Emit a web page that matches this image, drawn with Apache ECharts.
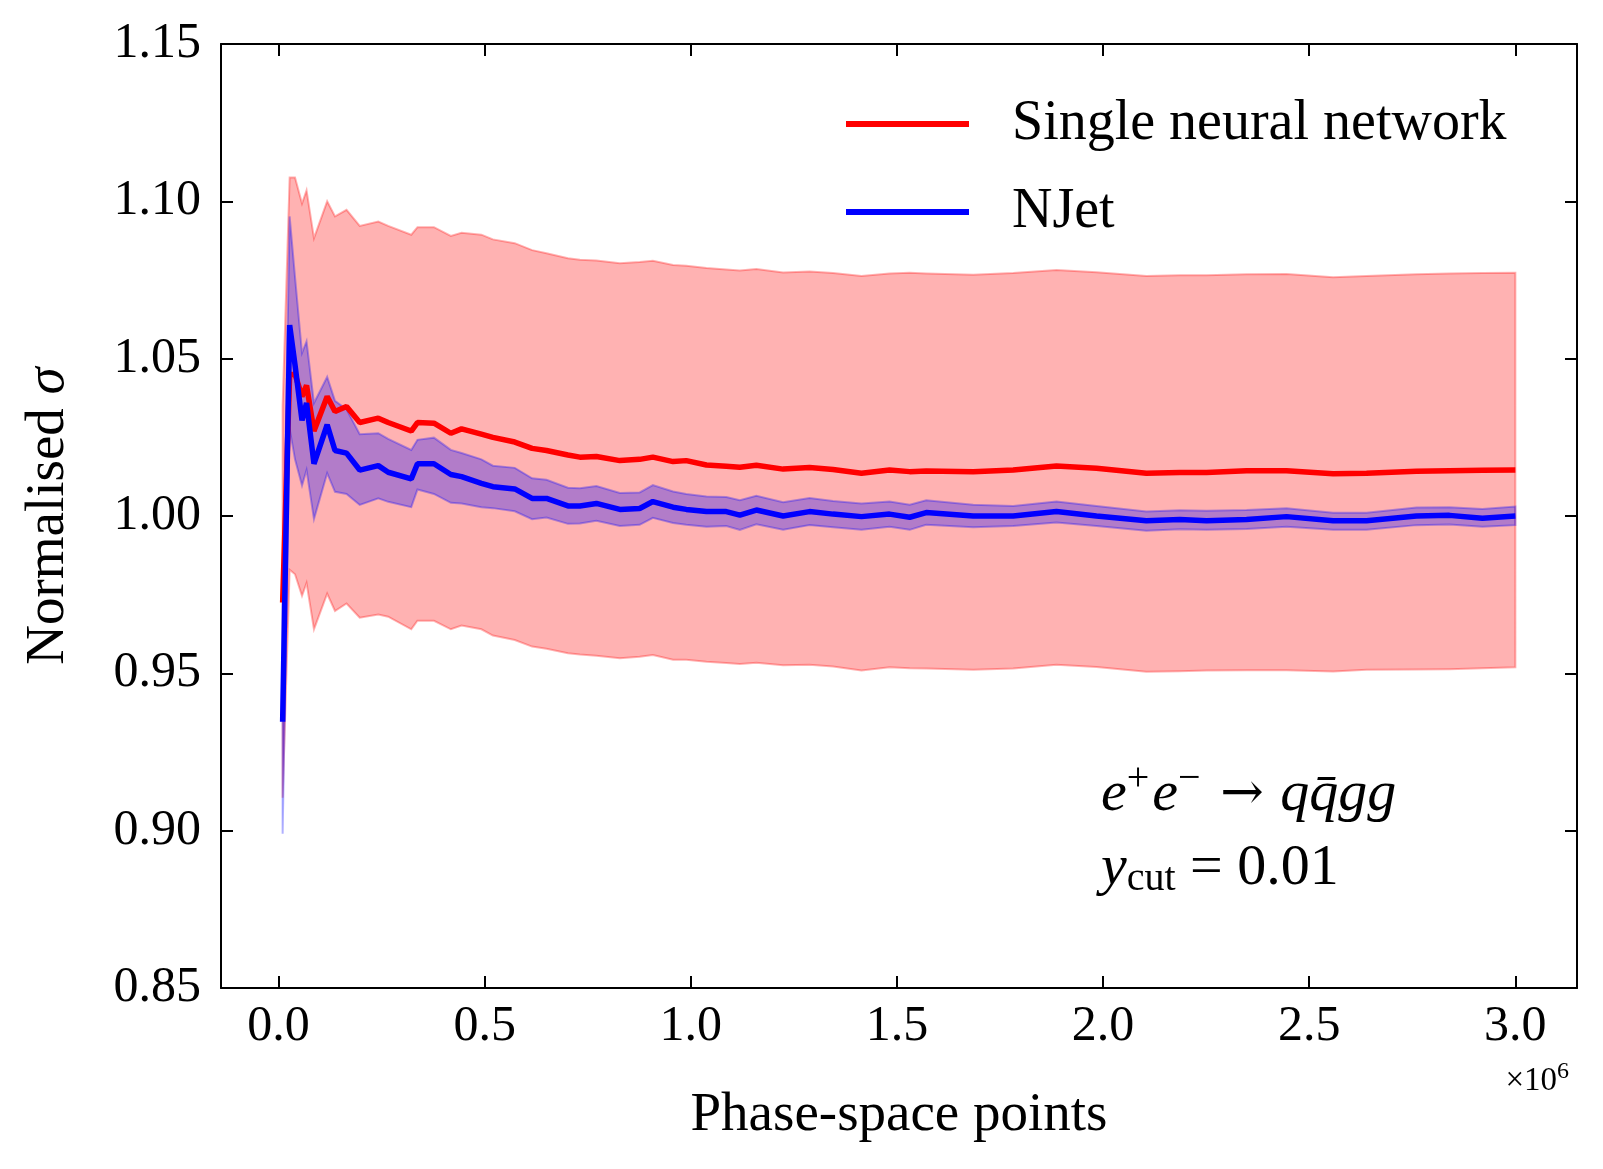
<!DOCTYPE html>
<html>
<head>
<meta charset="utf-8">
<script src="https://cdn.jsdelivr.net/npm/echarts@6/dist/echarts.min.js"></script>
<style>
html,body{margin:0;padding:0;background:#fff;}
#chart{width:1603px;height:1169px;}
</style>
</head>
<body>
<div id="chart"></div>
<script>
// Phase-space points (units of 10^6)
const xPoints = [0.010,0.027,0.040,0.057,0.068,0.086,0.118,0.137,0.165,0.197,0.242,0.266,0.322,0.337,0.377,0.418,0.444,0.492,0.520,0.573,0.615,0.650,0.702,0.731,0.771,0.828,0.876,0.908,0.957,0.989,1.038,1.086,1.119,1.159,1.224,1.288,1.345,1.414,1.482,1.531,1.571,1.685,1.782,1.887,1.984,2.105,2.186,2.251,2.348,2.445,2.558,2.639,2.760,2.840,2.920,3.000];

// Single neural network: central value and band
const nnValue = [0.9725,1.045,1.045,1.038,1.0415,1.027,1.038,1.0332,1.0348,1.0297,1.0311,1.0297,1.027,1.0297,1.0295,1.0263,1.0277,1.026,1.025,1.0235,1.0215,1.0208,1.0194,1.0187,1.0189,1.0176,1.018,1.0187,1.0173,1.0176,1.0162,1.0158,1.0155,1.0161,1.0149,1.0154,1.0148,1.0136,1.0146,1.0141,1.0143,1.0141,1.0146,1.0159,1.0152,1.0136,1.0138,1.0138,1.0144,1.0144,1.0134,1.0136,1.0142,1.0144,1.0145,1.0146];
const nnUpper = [1.035,1.1076,1.1076,1.0993,1.1035,1.0883,1.100,1.0952,1.0973,1.0922,1.0936,1.0922,1.0894,1.0918,1.0918,1.089,1.090,1.0894,1.0879,1.0867,1.0845,1.0835,1.0819,1.0814,1.0812,1.0803,1.0807,1.0811,1.0798,1.0795,1.0788,1.0783,1.078,1.0785,1.0774,1.0777,1.0772,1.0763,1.0771,1.0773,1.0771,1.0767,1.0772,1.0782,1.0775,1.0763,1.0765,1.0765,1.0768,1.0769,1.0759,1.0763,1.0768,1.0771,1.0772,1.0773];
const nnLower = [0.9105,0.9829,0.9815,0.9746,0.9787,0.964,0.9753,0.9698,0.9722,0.9677,0.9687,0.968,0.964,0.9667,0.9667,0.964,0.9652,0.964,0.962,0.9606,0.9585,0.9578,0.9564,0.956,0.9556,0.9548,0.9553,0.9558,0.9543,0.9543,0.9537,0.9533,0.953,0.9534,0.9526,0.9527,0.9522,0.9509,0.9519,0.9516,0.9515,0.9511,0.9515,0.9527,0.952,0.9505,0.9507,0.9509,0.951,0.951,0.9506,0.9511,0.9512,0.9513,0.9516,0.9519];

// NJet: central value and band
const njValue = [0.9346,1.0607,1.048,1.0304,1.0359,1.0166,1.029,1.0208,1.020,1.0146,1.016,1.0139,1.0118,1.0166,1.0166,1.0132,1.0125,1.0104,1.0093,1.0086,1.0056,1.0056,1.0032,1.0032,1.004,1.0021,1.0024,1.0046,1.0028,1.0021,1.0014,1.0014,1.0003,1.0019,1.0,1.0014,1.0006,0.9998,1.0006,0.9996,1.0011,1.0,1.0,1.0014,1.0,0.9985,0.9989,0.9985,0.9989,0.9998,0.9985,0.9985,1.0,1.0002,0.9993,1.0];
const njUpper = [0.971,1.0952,1.076,1.0518,1.0555,1.0359,1.0442,1.0366,1.0339,1.026,1.0263,1.0245,1.021,1.0242,1.0249,1.021,1.020,1.018,1.016,1.0153,1.012,1.0115,1.009,1.0088,1.0095,1.0073,1.0075,1.0098,1.0078,1.007,1.0062,1.006,1.005,1.0064,1.0044,1.0057,1.0048,1.004,1.0046,1.0036,1.005,1.0036,1.0032,1.0046,1.0032,1.0014,1.0018,1.0017,1.0019,1.0025,1.001,1.001,1.0027,1.0028,1.0022,1.003];
const njLower = [0.899,1.0277,1.018,1.0097,1.0146,0.999,1.0136,1.0077,1.007,1.0035,1.0056,1.0045,1.0028,1.0084,1.007,1.0042,1.004,1.0028,1.0025,1.0015,0.999,0.9995,0.9975,0.9976,0.9985,0.9968,0.9972,0.9994,0.9978,0.9972,0.9966,0.9968,0.9956,0.9974,0.9956,0.9971,0.9964,0.9956,0.9966,0.9956,0.9972,0.9964,0.9968,0.9979,0.9968,0.9953,0.9958,0.9956,0.9959,0.9966,0.9956,0.9956,0.9971,0.9973,0.9966,0.9971];

const yTickLabels = ['0.85','0.90','0.95','1.00','1.05','1.10','1.15'];
const xTickLabels = ['0.0','0.5','1.0','1.5','2.0','2.5','3.0'];

const FONT = 'Liberation Serif';
const chart = echarts.init(document.getElementById('chart'), null, {renderer: 'canvas'});

function bandSeries(name, upper, lower, rgb) {
  return {
    name: name,
    type: 'custom',
    coordinateSystem: 'cartesian2d',
    xAxisIndex: 0, yAxisIndex: 0,
    silent: true,
    data: [[xPoints[0], upper[0]]],
    renderItem: function (params, api) {
      const pts = [];
      for (let i = 0; i < xPoints.length; i++) pts.push(api.coord([xPoints[i], upper[i]]));
      for (let i = xPoints.length - 1; i >= 0; i--) pts.push(api.coord([xPoints[i], lower[i]]));
      return {
        type: 'polygon',
        shape: {points: pts},
        style: {fill: 'rgba(' + rgb + ',0.3)', stroke: 'rgba(' + rgb + ',0.3)', lineWidth: 2}
      };
    },
    z: 1
  };
}

function lineData(vals) { return xPoints.map((x, i) => [x, vals[i]]); }

function axisBase() {
  return {
    axisLine: {show: true, onZero: false, lineStyle: {color: '#000', width: 2}},
    splitLine: {show: false},
    axisTick: {show: true, inside: true, length: 12, lineStyle: {color: '#000', width: 2}}
  };
}

const option = {
  animation: false,
  backgroundColor: '#fff',
  grid: {left: 221, right: 26, top: 44, bottom: 181, containLabel: false},
  legend: {
    orient: 'vertical',
    left: 841, top: 89,
    icon: 'rect',
    itemWidth: 123, itemHeight: 6,
    itemGap: 28,
    data: ['Single neural network', 'NJet'],
    textStyle: {fontFamily: FONT, fontSize: 56, color: '#000', lineHeight: 60, padding: [0, 0, 0, 38]},
    selectedMode: false
  },
  xAxis: [
    Object.assign(axisBase(), {
      type: 'value', position: 'bottom', min: -0.1395, max: 3.1495,
      name: 'Phase-space points', nameLocation: 'middle', nameGap: 100,
      nameTextStyle: {fontFamily: FONT, fontSize: 55, color: '#000'},
      axisLabel: {show: true, margin: 14, fontFamily: FONT, fontSize: 50, color: '#000',
        showMinLabel: false, showMaxLabel: false,
        formatter: function (v) { const s = v.toFixed(1); return xTickLabels.indexOf(s) >= 0 ? s : ''; }}
    }),
    Object.assign(axisBase(), {
      type: 'value', position: 'top', min: -0.1395, max: 3.1495,
      axisLabel: {show: false}
    })
  ],
  yAxis: [
    Object.assign(axisBase(), {
      type: 'value', position: 'left', min: 0.85, max: 1.15, interval: 0.05,
      name: '{r|Normalised }{i|σ}', nameLocation: 'middle', nameGap: 145,
      nameTextStyle: {fontFamily: FONT, fontSize: 55, color: '#000',
        rich: {r: {fontFamily: FONT, fontSize: 55, color: '#000'}, i: {fontFamily: FONT, fontSize: 55, fontStyle: 'italic', color: '#000'}}},
      axisLabel: {show: true, margin: 20, fontFamily: FONT, fontSize: 50, color: '#000',
        formatter: function (v) { const s = v.toFixed(2); return yTickLabels.indexOf(s) >= 0 ? s : ''; }}
    }),
    Object.assign(axisBase(), {
      type: 'value', position: 'right', min: 0.85, max: 1.15, interval: 0.05,
      axisLabel: {show: false}
    })
  ],
  graphic: [
    {
      type: 'text', left: 1101, top: 759, z: 100,
      style: {
        text: '{i|e}{s|+}{i|e}{s|−}{a| → }{i|q}{i|q̄}{i|gg}',
        rich: {
          i: {fontFamily: FONT, fontSize: 58, fontStyle: 'italic', fill: '#000'},
          a: {fontFamily: 'DejaVu Serif', fontSize: 52, fill: '#000'},
          s: {fontFamily: FONT, fontSize: 40, fill: '#000', padding: [0, 3, 32, 0]}
        }
      }
    },
    {
      type: 'text', left: 1101, top: 840, z: 100,
      style: {
        text: '{i|y}{b|cut}{n| = 0.01}',
        rich: {
          i: {fontFamily: FONT, fontSize: 58, fontStyle: 'italic', fill: '#000'},
          n: {fontFamily: FONT, fontSize: 58, fill: '#000'},
          b: {fontFamily: FONT, fontSize: 40, fill: '#000', padding: [20, 0, 0, 0]}
        }
      }
    },
    {
      type: 'text', right: 34, top: 1060, z: 100,
      style: {
        text: '{n|×10}{s|6}',
        rich: {
          n: {fontFamily: FONT, fontSize: 33, fill: '#000'},
          s: {fontFamily: FONT, fontSize: 24, fill: '#000', padding: [0, 0, 18, 0]}
        }
      }
    }
  ],
  series: [
    bandSeries('nnBand', nnUpper, nnLower, '255,0,0'),
    bandSeries('njBand', njUpper, njLower, '0,0,255'),
    {
      name: 'Single neural network', type: 'line', data: lineData(nnValue),
      showSymbol: false, symbol: 'none', color: '#ff0000',
      lineStyle: {color: '#ff0000', width: 5.5}, z: 3
    },
    {
      name: 'NJet', type: 'line', data: lineData(njValue),
      showSymbol: false, symbol: 'none', color: '#0000ff',
      lineStyle: {color: '#0000ff', width: 5.5}, z: 4
    }
  ]
};
chart.setOption(option);
</script>
</body>
</html>
